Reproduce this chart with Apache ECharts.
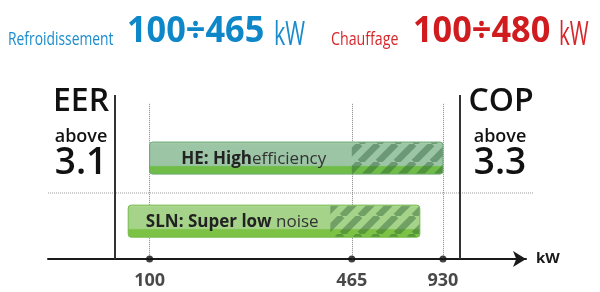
<!DOCTYPE html>
<html>
<head>
<meta charset="utf-8">
<script src="https://cdn.jsdelivr.net/npm/echarts@6/dist/echarts.min.js"></script>
<style>html,body{margin:0;padding:0;background:#fff}#c{width:600px;height:292px}</style>
</head>
<body>
<div id="c"></div>
<script>
// ---- data ----
const tickValues = [100, 465, 930];
const tickLabels = ['100', '465', '930'];
const rowNames = ['SLN', 'HE'];
const rowLevels = [1, 2];
const barStart = [85, 100];
const hatchStart = [395, 465];
const barEnd = [780, 930];
const boldText = ['SLN: Super low', 'HE: High'];
const normalText = [' noise', 'efficiency'];
const coolingRange = '100÷465';
const heatingRange = '100÷480';
const eerValue = '3.1';
const copValue = '3.3';

// ---- styles ----
const rowStyles = [
  { top: '#b3dc96', mid: '#a5d389', low: '#7cc244', border: '#74b94a' },
  { top: '#aecfb4', mid: '#9cc5a5', low: '#6fbd48', border: '#6aa974' }
];
const FONT = '"Open Sans", "Noto Sans", sans-serif';

function makePattern() {
  const T = 18;
  const c = document.createElement('canvas');
  c.width = T; c.height = T;
  const ctx = c.getContext('2d');
  ctx.strokeStyle = 'rgba(35,85,45,0.4)';
  ctx.lineWidth = 6.5;
  for (let k = -1; k <= 1; k++) {
    ctx.beginPath();
    ctx.moveTo(k * T, T);
    ctx.lineTo(k * T + T, 0);
    ctx.stroke();
  }
  return c;
}
const patternCanvas = makePattern();

const barData = rowNames.map((n, i) => [barStart[i], hatchStart[i], barEnd[i], rowLevels[i], i]);
const dotData = tickValues.map((v, i) => ({ value: [v, 0.4], label: { formatter: tickLabels[i] } }));

function headText(x, y, text, font, fill, sx) {
  return { type: 'text', x: x, y: y, scaleX: sx, style: { x: 0, y: 0, text: text, font: font, fill: fill, align: 'left', verticalAlign: 'middle' } };
}

const chart = echarts.init(document.getElementById('c'), null, { renderer: 'canvas' });

const option = {
  animation: false,
  grid: { left: 48, right: 74, top: 95, bottom: 33 },
  xAxis: {
    type: 'log', logBase: 10, min: 46.2, max: 1748,
    axisLine: { show: true, lineStyle: { color: '#1a1a1a', width: 2 }, symbol: ['none', 'arrow'], symbolSize: [12, 13] },
    axisTick: { show: false }, axisLabel: { show: false }, splitLine: { show: false },
    name: 'kW', nameLocation: 'end', nameGap: 10,
    nameTextStyle: { fontFamily: FONT, fontSize: 15, fontWeight: 'bold', color: '#1a1a1a', verticalAlign: 'middle' }
  },
  yAxis: { type: 'value', min: 0.4, max: 3, show: false },
  graphic: [
    // header
    headText(8, 40, 'Refroidissement', '18px ' + FONT, '#1a8ccc', 0.77),
    headText(127, 32, coolingRange, 'bold 35px ' + FONT, '#0e87c9', 0.98),
    headText(274, 35.5, 'kW', '32px ' + FONT, '#1a8ccc', 0.67),
    headText(331, 40, 'Chauffage', '18px ' + FONT, '#d7262a', 0.79),
    headText(413, 32, heatingRange, 'bold 35px ' + FONT, '#d01b1f', 0.98),
    headText(559, 35.5, 'kW', '32px ' + FONT, '#d7262a', 0.64),
    // EER / COP panels
    { type: 'text', x: 81, y: 102, style: { text: 'EER', font: '600 32px ' + FONT, fill: '#111', align: 'center', verticalAlign: 'middle' } },
    { type: 'text', x: 81, y: 137, style: { text: 'above', font: '600 18px ' + FONT, fill: '#111', align: 'center', verticalAlign: 'middle' } },
    { type: 'text', x: 81, y: 163, style: { text: eerValue, font: '600 37px ' + FONT, fill: '#111', align: 'center', verticalAlign: 'middle' } },
    { type: 'text', x: 501, y: 102, style: { text: 'COP', font: '600 32px ' + FONT, fill: '#111', align: 'center', verticalAlign: 'middle' } },
    { type: 'text', x: 500, y: 137, style: { text: 'above', font: '600 18px ' + FONT, fill: '#111', align: 'center', verticalAlign: 'middle' } },
    { type: 'text', x: 500, y: 163, style: { text: copValue, font: '600 37px ' + FONT, fill: '#111', align: 'center', verticalAlign: 'middle' } },
    // separators
    { type: 'line', shape: { x1: 115, y1: 95, x2: 115, y2: 259 }, style: { stroke: '#333', lineWidth: 2 }, z: 5 },
    { type: 'line', shape: { x1: 460, y1: 95, x2: 460, y2: 259 }, style: { stroke: '#333', lineWidth: 2 }, z: 5 },
    { type: 'line', shape: { x1: 48, y1: 193, x2: 533, y2: 193 }, style: { stroke: '#999', lineWidth: 1, lineDash: [1, 1] }, z: 1 }
  ],
  series: [
    {
      type: 'custom',
      z: 10,
      data: barData,
      encode: { x: [0, 1, 2], y: 3 },
      clip: false,
      renderItem(params, api) {
        const lvl = api.value(3);
        const idx = api.value(4);
        const st = rowStyles[idx];
        const s = api.coord([api.value(0), lvl]);
        const h = api.coord([api.value(1), lvl]);
        const e = api.coord([api.value(2), lvl]);
        const top = api.coord([api.value(0), lvl + 0.254])[1];
        const bot = api.coord([api.value(0), lvl - 0.254])[1];
        const height = bot - top;
        const grad = new echarts.graphic.LinearGradient(0, 0, 0, 1, [
          { offset: 0, color: st.top },
          { offset: 0.1, color: st.mid },
          { offset: 0.72, color: st.mid },
          { offset: 0.76, color: st.low },
          { offset: 1, color: st.low }
        ]);
        return {
          type: 'group',
          children: [
            { type: 'rect', shape: { x: s[0], y: top, width: e[0] - s[0], height: height, r: 3 },
              style: { fill: grad, stroke: st.border, lineWidth: 1 } },
            { type: 'rect', shape: { x: h[0], y: top + 0.5, width: e[0] - h[0] - 0.5, height: height - 1, r: [0, 3, 3, 0] },
              style: { fill: { image: patternCanvas, repeat: 'repeat' } } },
            { type: 'text', style: {
                x: (s[0] + h[0]) / 2 + 3, y: (top + bot) / 2 + 1,
                text: '{b|' + boldText[idx] + '}{n|' + normalText[idx] + '}',
                align: 'center', verticalAlign: 'middle',
                rich: {
                  b: { fontFamily: FONT, fontSize: 17, fontWeight: 'bold', fill: '#222', color: '#222' },
                  n: { fontFamily: FONT, fontSize: 17, fontWeight: 'normal', fill: '#333', color: '#333' }
                }
              } }
          ]
        };
      },
      markLine: {
        silent: true, symbol: 'none', animation: false,
        lineStyle: { color: '#888', width: 1, type: [1, 1] },
        label: { show: false },
        data: tickValues.map(v => [{ coord: [v, 2.86] }, { coord: [v, 0.4] }])
      }
    },
    {
      type: 'scatter',
      z: 12,
      clip: false,
      symbolSize: 7,
      itemStyle: { color: '#111' },
      label: { show: true, position: 'bottom', distance: 9, fontFamily: FONT, fontSize: 18, fontWeight: 'bold', color: '#1a1a1a' },
      data: dotData
    }
  ]
};
chart.setOption(option);
</script>
</body>
</html>
